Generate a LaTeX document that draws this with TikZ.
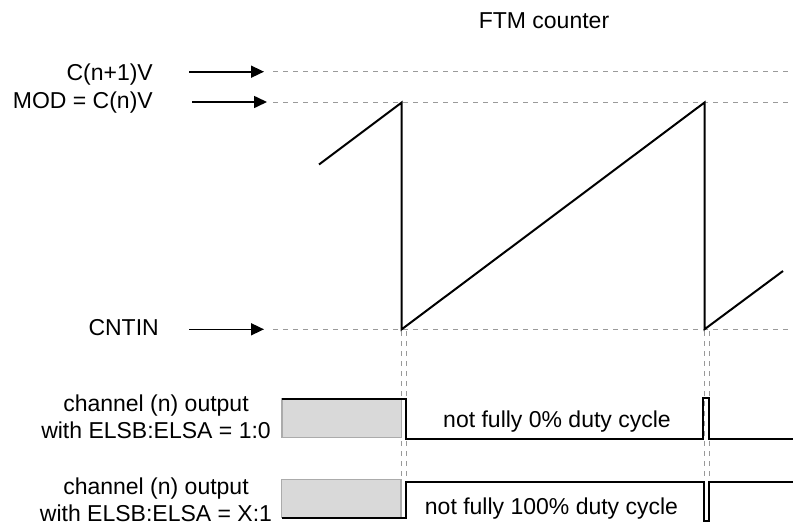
\documentclass[tikz,border=0pt]{standalone}
\usepackage{fontspec}
\setmainfont{Liberation Sans}
\usetikzlibrary{arrows.meta}
\definecolor{guideGray}{HTML}{9A9A9A}
\definecolor{boxGray}{HTML}{D9D9D9}
\definecolor{boxEdge}{HTML}{ABABAB}

\begin{document}
\begin{tikzpicture}[x=1pt,y=-1pt,font=\fontsize{23}{27}\selectfont,
  lbl/.style={inner sep=0pt, align=center},
  ptr/.style={line width=1.6pt, -{Triangle[length=13pt,width=12pt]}},
  guide/.style={guideGray, line width=1pt, dash pattern=on 5pt off 5pt},
  sig/.style={line width=2pt, line join=miter},
  idle/.style={fill=boxGray, draw=boxEdge, line width=1.2pt}]
\useasboundingbox (0,0) rectangle (793,525);
% title
\node[lbl, anchor=base] (title) at (544,28.3) {FTM counter};
% levels
\node[lbl, anchor=base east] (lvlC1) at (153,80.7) {C(n+1)V};
\node[lbl, anchor=base east] (lvlMOD) at (153,108.3) {MOD = C(n)V};
\node[lbl, anchor=base east] (lvlCNTIN) at (159,335) {CNTIN};
\coordinate (c1a) at (189,71.7);  \coordinate (c1b) at (264,71.7);
\coordinate (moda) at (192,102);  \coordinate (modb) at (267,102);
\coordinate (cna) at (189,329.3); \coordinate (cnb) at (264,329.3);
\draw[ptr] (c1a) -- (c1b);
\draw[ptr] (moda) -- (modb);
\draw[ptr] (cna) -- (cnb);
\draw[guide] (273,71.7) -- (793,71.7);
\draw[guide] (273,102) -- (793,102);
\draw[guide] (273,329.3) -- (793,329.3);
% edges down to the outputs
\foreach \gx in {401.7,406.5,704,709}
  \draw[guide] (\gx,331) -- (\gx,481);
% counter
\draw[sig] (319,164.5) -- (401.7,102.5) -- (401.7,329.3) -- (704.5,102.5)
  -- (704.5,329.3) -- (783,271);
% output 1:0
\node[lbl, anchor=south] (out10) at (156,439) {channel (n) output\\with ELSB:ELSA = 1:0};
\draw[idle] (282,399) rectangle (401.7,437.5);
\draw[sig] (282,399) -- (405.7,399) -- (405.7,439) -- (703,439) -- (703,397.5)
  -- (708.5,397.5) -- (708.5,439) -- (793,439);
\node[lbl, anchor=base] (duty0) at (557,427) {not fully 0\% duty cycle};
% output X:1
\node[lbl, anchor=south] (outX1) at (156,521.7) {channel (n) output\\with ELSB:ELSA = X:1};
\draw[idle] (281.5,479.5) rectangle (401,517.5);
\draw[sig] (282,517.5) -- (405.7,517.5) -- (405.7,481.5) -- (704,481.5) -- (704,521)
  -- (708.5,521) -- (708.5,481.5) -- (793,481.5);
\node[lbl, anchor=base] (duty100) at (551.5,514) {not fully 100\% duty cycle};
\end{tikzpicture}
\end{document}
